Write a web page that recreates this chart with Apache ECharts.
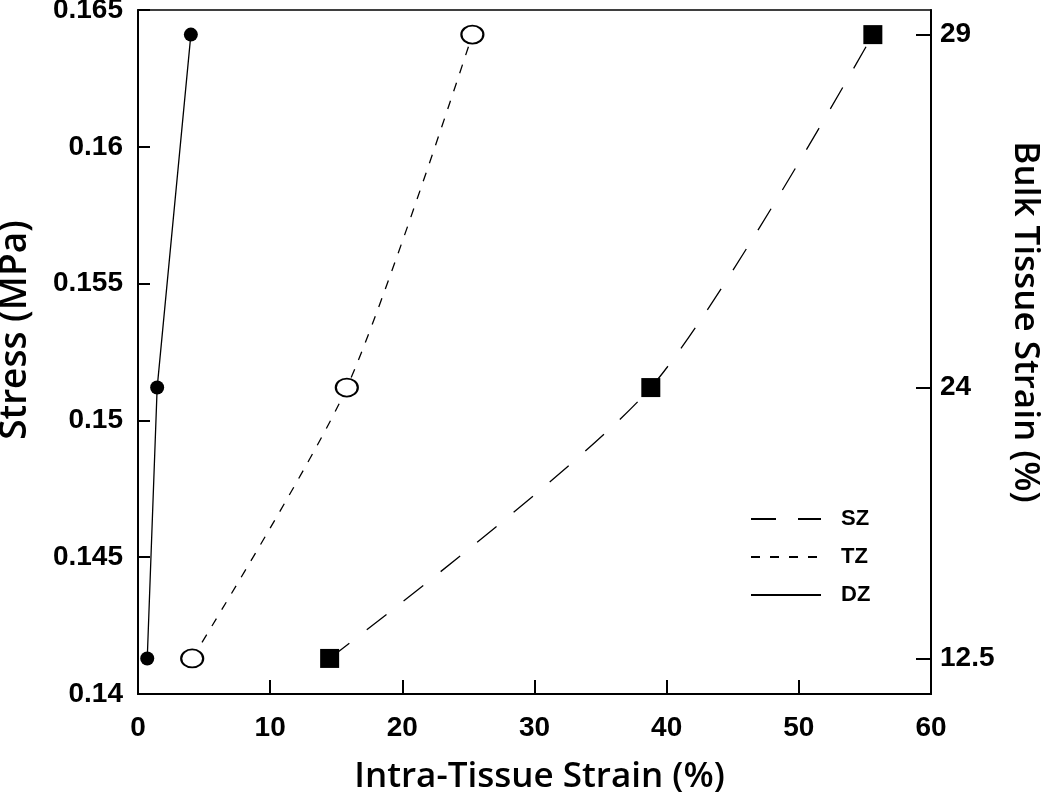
<!DOCTYPE html>
<html>
<head>
<meta charset="utf-8">
<script src="https://cdn.jsdelivr.net/npm/echarts@6/dist/echarts.min.js"></script>
<style>html,body{margin:0;padding:0;background:#fff}#c{width:1050px;height:797px}</style>
</head>
<body>
<div id="c"></div>
<script>
var seriesNames = ['SZ', 'TZ', 'DZ'];
var stress = [0.1413, 0.1512, 0.1641];
var szStrain = [14.5, 38.8, 55.6];
var tzStrain = [4.1, 15.8, 25.3];
var dzStrain = [0.7, 1.45, 4.0];
var bulkTickValues = [0.1413, 0.1512, 0.1641];
var bulkTickLabels = ['12.5', '24', '29'];

function pairs(xs, ys) { return xs.map(function (x, i) { return [x, ys[i]]; }); }

var chart = echarts.init(document.getElementById('c'));
var tickFont = { fontFamily: 'Liberation Sans', fontWeight: 'bold', fontSize: 28, color: '#000' };
function nameFont(size, pad) {
  return { fontFamily: 'Open Sans', fontWeight: 600, fontSize: size, color: '#000', padding: pad };
}
chart.setOption({
  animation: false,
  backgroundColor: '#fff',
  grid: { left: 138, right: 119, top: 10, bottom: 103, outerBoundsMode: 'none', containLabel: false,
    show: true, borderColor: '#000', borderWidth: 1.5, backgroundColor: 'transparent' },
  legend: {
    data: seriesNames,
    orient: 'vertical',
    left: 745, top: 503,
    itemWidth: 70, itemHeight: 14, itemGap: 16,
    itemStyle: { opacity: 0 },
    textStyle: { fontFamily: 'Liberation Sans', fontWeight: 'bold', fontSize: 22, color: '#000', padding: [0, 0, 0, 15] }
  },
  xAxis: {
    type: 'value', min: 0, max: 60, interval: 10,
    name: 'Intra-Tissue Strain (%)', nameLocation: 'middle', nameGap: 66, nameTextStyle: nameFont(35, [0, 0, 0, 10]),
    axisLine: { lineStyle: { color: '#000', width: 2 } },
    axisTick: { inside: true, length: 14, lineStyle: { color: '#000', width: 2 } },
    axisLabel: Object.assign({ margin: 20 }, tickFont),
    splitLine: { show: false }
  },
  yAxis: [{
    type: 'value', min: 0.14, max: 0.165, interval: 0.005,
    name: 'Stress (MPa)', nameLocation: 'middle', nameGap: 104, nameTextStyle: nameFont(37, [0, 0, 0, 44]),
    axisLine: { lineStyle: { color: '#000', width: 2 } },
    axisTick: { inside: true, length: 12, lineStyle: { color: '#000', width: 2 } },
    axisLabel: Object.assign({ margin: 15, formatter: function (v) { return String(+v.toFixed(3)); } }, tickFont),
    splitLine: { show: false }
  }, {
    type: 'value', min: 0.14, max: 0.165, position: 'right',
    name: 'Bulk Tissue Strain (%)', nameLocation: 'middle', nameGap: 76, nameRotate: -90, nameTextStyle: nameFont(35, [0, 60, 0, 0]),
    axisLine: { show: true, lineStyle: { color: '#000', width: 2 } },
    axisTick: { show: true, inside: true, length: 15, customValues: bulkTickValues, lineStyle: { color: '#000', width: 2 } },
    axisLabel: Object.assign({ margin: 9, customValues: bulkTickValues, formatter: function (v) {
      var i = bulkTickValues.findIndex(function (t) { return Math.abs(t - v) < 1e-6; });
      return i >= 0 ? bulkTickLabels[i] : '';
    } }, tickFont),
    splitLine: { show: false }
  }],
  series: [{
    name: 'SZ', type: 'line', smooth: 0.25, data: pairs(szStrain, stress),
    symbol: 'rect', symbolSize: 19,
    lineStyle: { color: '#000', width: 1.3, type: [25, 22] },
    itemStyle: { color: '#000' }
  }, {
    name: 'TZ', type: 'line', smooth: 0.25, data: pairs(tzStrain, stress),
    symbol: 'circle', symbolSize: [22, 18],
    lineStyle: { color: '#000', width: 1.3, type: [9, 10] },
    itemStyle: { color: '#fff', borderColor: '#000', borderWidth: 2 }
  }, {
    name: 'DZ', type: 'line', data: pairs(dzStrain, stress),
    symbol: 'circle', symbolSize: 14,
    lineStyle: { color: '#000', width: 1.3 },
    itemStyle: { color: '#000' }
  }]
});
</script>
</body>
</html>
